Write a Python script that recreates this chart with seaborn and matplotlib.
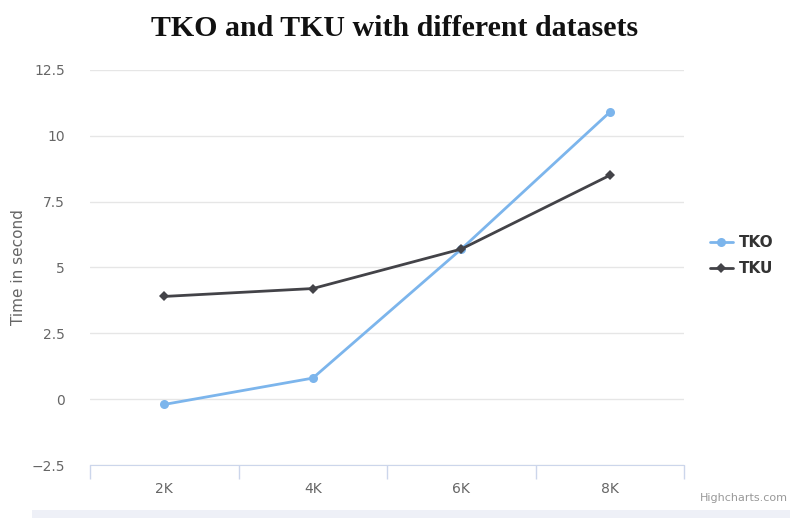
import pandas as pd
import matplotlib.pyplot as plt
import seaborn as sns

# values
datasets = ['2K', '4K', '6K', '8K']
tko = [-0.2, 0.8, 5.7, 10.9]
tku = [3.9, 4.2, 5.7, 8.5]

df = pd.DataFrame({
    'dataset': datasets * 2,
    'time': tko + tku,
    'series': ['TKO'] * 4 + ['TKU'] * 4,
})
df['pos'] = [0, 1, 2, 3] * 2

sns.set_style('white')
plt.rcParams['font.family'] = ['DejaVu Sans']

fig = plt.figure(figsize=(7.9, 5.18), dpi=100)
ax = fig.add_axes([0.114, 0.1023, 0.752, 0.7627])

sns.lineplot(data=df, x='pos', y='time', hue='series', style='series',
             palette={'TKO': '#7cb5ec', 'TKU': '#434348'},
             markers={'TKO': 'o', 'TKU': 'D'}, dashes=False,
             markersize=6.5, linewidth=2, markeredgewidth=0, ax=ax)
# slightly smaller diamonds
for ln in ax.lines:
    if ln.get_marker() == 'D':
        ln.set_markersize(5.5)

ax.set_xlim(-0.5, 3.5)
ax.set_ylim(-2.5, 12.5)
ax.set_yticks([-2.5, 0, 2.5, 5, 7.5, 10, 12.5])
ax.set_yticklabels(['−2.5', '0', '2.5', '5', '7.5', '10', '12.5'])
ax.set_xticks([0, 1, 2, 3])
ax.set_xticklabels(datasets)
ax.set_xticks([-0.5, 0.5, 1.5, 2.5, 3.5], minor=True)
ax.tick_params(axis='x', which='major', bottom=False, length=0, pad=12, labelsize=10, colors='#666666')
ax.tick_params(axis='x', which='minor', bottom=True, length=10, color='#ccd6eb', width=1, direction='out')
ax.tick_params(axis='y', length=0, pad=18, labelsize=10, colors='#666666')
ax.grid(axis='y', color='#e6e6e6', linewidth=1)
ax.set_axisbelow(True)
for s in ['top', 'right', 'left']:
    ax.spines[s].set_visible(False)
ax.spines['bottom'].set_color('#ccd6eb')

ax.set_xlabel('')
ax.set_ylabel('')
fig.text(0.023, 0.485, 'Time in second', rotation=90, ha='center', va='center',
         fontsize=11, color='#666666')

fig.text(0.5, 0.945, 'TKO and TKU with different datasets', ha='center', va='center',
         fontsize=21.5, fontweight='bold', family='Liberation Serif', color='#111111')

leg = ax.legend(loc='center left', bbox_to_anchor=(1.02, 0.53), frameon=False,
                fontsize=11, handlelength=1.5, handletextpad=0.4, labelspacing=0.7)
for t in leg.get_texts():
    t.set_fontweight('bold')
    t.set_color('#333333')

fig.text(0.997, 0.028, 'Highcharts.com', ha='right', va='bottom', fontsize=8, color='#999999')
fig.patches.append(plt.Rectangle((0.04, 0), 0.96, 0.016, transform=fig.transFigure,
                                 facecolor='#eef0f7', edgecolor='none'))

fig.savefig('out.png', dpi=100)
